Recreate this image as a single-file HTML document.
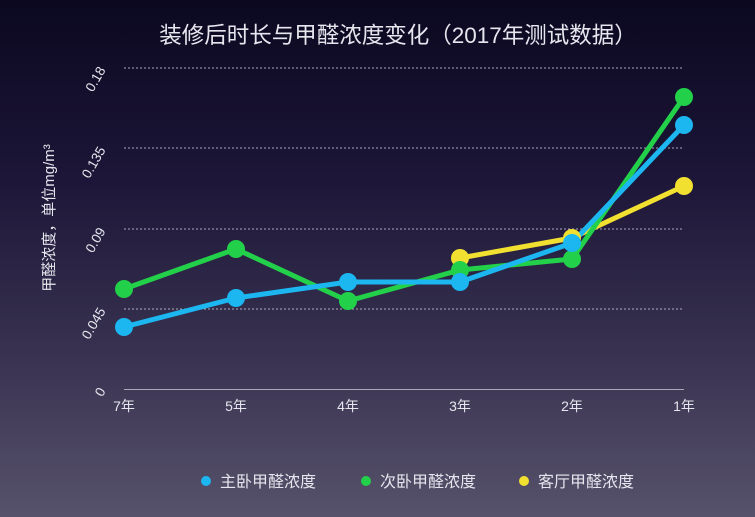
<!DOCTYPE html>
<html><head><meta charset="utf-8"><style>
html,body{margin:0;padding:0;width:755px;height:517px;overflow:hidden}
svg{display:block}
text{font-family:"Liberation Sans","Noto Sans CJK SC",sans-serif;fill:#e6e6ee}
</style></head><body>
<svg width="755" height="517" viewBox="0 0 755 517" xmlns="http://www.w3.org/2000/svg">
<defs><linearGradient id="bg" x1="0" y1="0" x2="0" y2="1">
<stop offset="0" stop-color="#0b0820"/><stop offset="0.35" stop-color="#1d1638"/><stop offset="0.7" stop-color="#3a3452"/><stop offset="1" stop-color="#57526b"/></linearGradient></defs>
<rect width="755" height="517" fill="url(#bg)"/>
<text x="398" y="43" font-size="22.5" text-anchor="middle" fill="#f0f0f4">装修后时长与甲醛浓度变化（2017年测试数据）</text>
<g stroke="#cfcfdc" stroke-width="1" stroke-dasharray="2,2" opacity="0.8">
<line x1="124" y1="68" x2="684" y2="68"/><line x1="124" y1="148" x2="684" y2="148"/>
<line x1="124" y1="229" x2="684" y2="229"/><line x1="124" y1="309" x2="684" y2="309"/></g>
<line x1="124" y1="389.5" x2="684" y2="389.5" stroke="#a9a7b8" stroke-width="1"/>
<g font-size="13.5">
<text transform="translate(106,70) rotate(-60)" text-anchor="end">0.18</text>
<text transform="translate(106,150) rotate(-60)" text-anchor="end">0.135</text>
<text transform="translate(106,231) rotate(-60)" text-anchor="end">0.09</text>
<text transform="translate(106,311) rotate(-60)" text-anchor="end">0.045</text>
<text transform="translate(106,391) rotate(-60)" text-anchor="end">0</text>
</g>
<text transform="translate(54,218) rotate(-90)" font-size="15" text-anchor="middle">甲醛浓度，单位mg/m³</text>
<g font-size="14" text-anchor="middle">
<text x="124" y="411">7年</text><text x="236" y="411">5年</text><text x="348" y="411">4年</text>
<text x="460" y="411">3年</text><text x="572" y="411">2年</text><text x="684" y="411">1年</text></g>
<g fill="none" stroke-width="5" stroke-linejoin="round">
<polyline stroke="#f2e030" points="460,258 572,238 684,186"/>
<polyline stroke="#22d04a" points="124,289 236,249 348,301 460,270 572,259 684,97"/>
<polyline stroke="#1cb6f0" points="124,327 236,298 348,282 460,282 572,243 684,125"/>
</g>
<g fill="#f2e030"><circle cx="460" cy="258" r="9"/><circle cx="572" cy="238" r="9"/><circle cx="684" cy="186" r="9"/></g>
<g fill="#22d04a"><circle cx="124" cy="289" r="9"/><circle cx="236" cy="249" r="9"/><circle cx="348" cy="301" r="9"/><circle cx="460" cy="270" r="9"/><circle cx="572" cy="259" r="9"/><circle cx="684" cy="97" r="9"/></g>
<g fill="#1cb6f0"><circle cx="124" cy="327" r="9"/><circle cx="236" cy="298" r="9"/><circle cx="348" cy="282" r="9"/><circle cx="460" cy="282" r="9"/><circle cx="572" cy="243" r="9"/><circle cx="684" cy="125" r="9"/></g>
<g font-size="16">
<circle cx="206" cy="481" r="5" fill="#1cb6f0"/><text x="220" y="487">主卧甲醛浓度</text>
<circle cx="366" cy="481" r="5" fill="#22d04a"/><text x="380" y="487">次卧甲醛浓度</text>
<circle cx="524" cy="481" r="5" fill="#f2e030"/><text x="538" y="487">客厅甲醛浓度</text>
</g>
</svg>
</body></html>
